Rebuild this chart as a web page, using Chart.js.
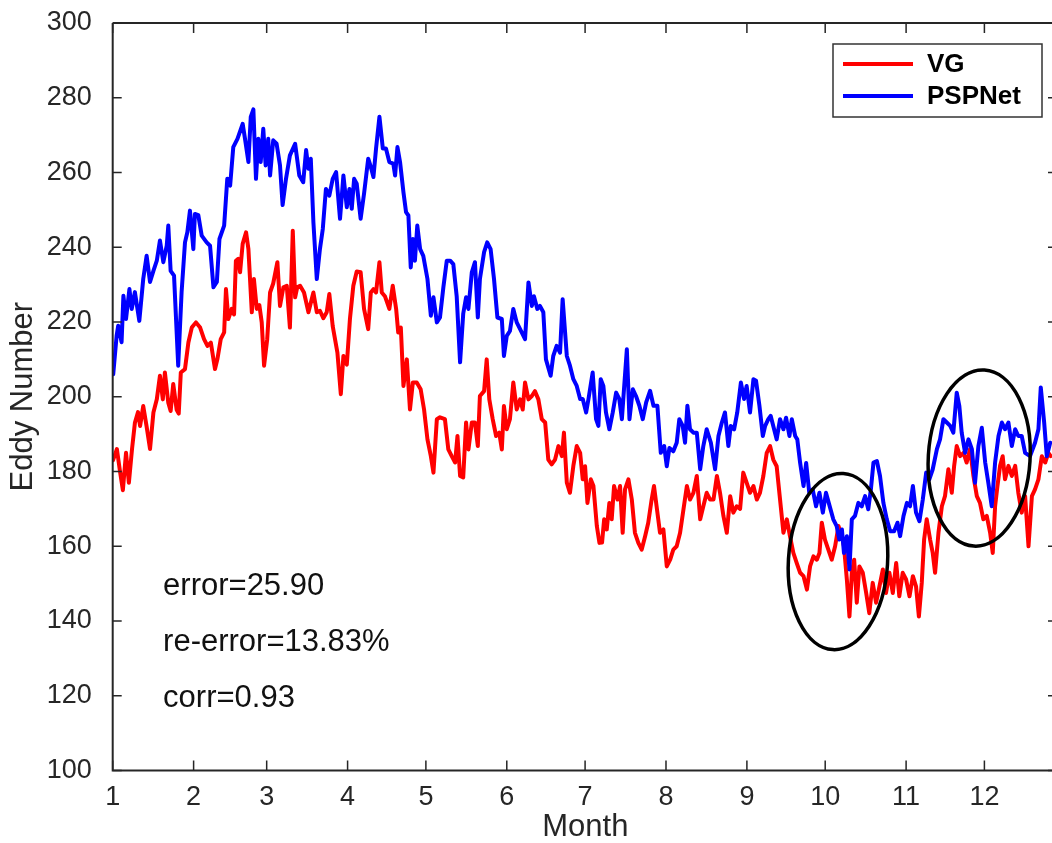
<!DOCTYPE html>
<html>
<head>
<meta charset="utf-8">
<script src="https://cdn.jsdelivr.net/npm/chart.js@4.4.1/dist/chart.umd.min.js"></script>
<style>
  html, body { margin: 0; padding: 0; background: #fff; overflow: hidden; width: 1052px; height: 843px; }
  #wrap { width: 1062px; height: 843px; position: relative; }
</style>
</head>
<body>
<div id="wrap"><canvas id="chart"></canvas></div>
<script>
// eje x en días del año; las marcas son el primer día de cada mes
const monthStarts = [0, 31, 59, 90, 120, 151, 181, 212, 243, 273, 304, 334];
const monthLabels = ['1', '2', '3', '4', '5', '6', '7', '8', '9', '10', '11', '12'];

const seriesNames = ['VG', 'PSPNet'];

const vgDays = [0.1, 1.6, 2.8, 3.9, 5.1, 6.2, 7.4, 8.5, 9.7, 10.5, 11.7, 13.0, 14.3, 15.6, 16.9, 18.1, 19.2, 20.0, 21.3, 22.2,
  23.2, 24.5, 25.3, 26.1, 27.7, 29.0, 30.3, 31.9, 33.5, 35.0, 36.3, 37.6, 39.2, 40.1, 41.4, 42.7, 43.4, 44.3, 45.6, 46.5,
  47.2, 48.1, 48.8, 49.8, 51.1, 52.0, 53.3, 54.1, 55.2, 56.2, 57.1, 58.0, 59.2, 60.3, 61.5, 63.1, 64.1, 65.4, 66.7, 67.9,
  69.0, 69.9, 70.7, 71.8, 73.3, 75.0, 76.9, 78.2, 79.4, 80.7, 82.0, 83.0, 84.3, 86.1, 87.4, 88.4, 89.7, 90.9, 92.2, 93.5,
  95.0, 96.3, 97.9, 98.9, 99.9, 100.9, 102.2, 103.1, 104.3, 106.0, 107.3, 108.6, 109.4, 110.4, 111.4, 112.7, 113.9, 115.0, 116.5, 118.0,
  119.3, 120.6, 121.9, 122.9, 124.2, 125.4, 127.3, 128.6, 129.9, 131.2, 132.1, 133.1, 134.3, 135.4, 136.3, 137.6, 138.8, 139.9, 140.7, 142.3,
  143.3, 144.3, 145.6, 146.9, 148.1, 149.1, 149.9, 151.0, 152.2, 153.5, 154.8, 156.1, 157.1, 158.0, 159.3, 160.6, 161.8, 163.1, 164.4, 165.7,
  166.9, 168.2, 169.5, 170.8, 172.1, 172.9, 174.0, 175.2, 176.5, 177.8, 179.1, 180.1, 181.0, 181.9, 183.2, 184.2, 185.5, 186.5, 187.5, 188.3,
  189.3, 190.3, 191.2, 192.1, 193.4, 194.4, 195.4, 196.3, 197.6, 198.9, 200.1, 201.4, 202.7, 204.0, 205.2, 206.5, 207.4, 208.7, 209.7, 211.0,
  212.3, 213.6, 214.8, 216.1, 217.4, 218.7, 220.0, 221.2, 222.5, 223.8, 225.1, 226.3, 227.6, 228.9, 230.2, 231.5, 232.7, 234.0, 235.3, 236.6,
  237.8, 239.1, 240.4, 241.6, 242.9, 244.2, 245.5, 246.8, 248.0, 249.3, 250.6, 251.9, 253.1, 254.4, 255.7, 257.0, 258.3, 259.5, 260.8, 262.1,
  263.4, 264.7, 266.0, 267.2, 268.5, 269.8, 270.8, 271.7, 272.9, 274.2, 275.5, 276.8, 278.1, 279.4, 280.2, 281.3, 282.3, 283.2, 284.1, 285.1,
  286.1, 287.4, 288.7, 289.9, 291.2, 292.5, 293.8, 295.1, 296.3, 297.6, 298.9, 300.2, 301.4, 302.7, 304.0, 305.3, 306.6, 307.8, 308.9, 310.0,
  310.9, 311.9, 313.2, 314.2, 315.1, 316.4, 317.7, 318.9, 320.2, 321.5, 322.4, 323.4, 324.7, 326.0, 327.2, 328.5, 329.8, 331.1, 332.3, 333.6,
  334.9, 336.2, 337.2, 338.1, 339.0, 340.0, 341.0, 341.9, 343.2, 344.5, 345.8, 347.0, 348.3, 349.6, 350.9, 352.2, 353.4, 354.7, 356.0, 357.3,
  358.5, 359.4];
const vgVals = [183, 186, 180, 175, 185, 177, 186, 193, 195.9, 192.2, 197.5, 192, 186, 195.8, 199.3, 205.6, 199.3, 206.5, 198.4, 196.2,
  203.4, 196.5, 195.5, 206.5, 207.4, 214.5, 218.5, 219.9, 218.5, 215.4, 213.6, 214.5, 207.4, 210, 215.4, 217.2, 228.8, 220.8, 223.5, 222,
  236.4, 236.9, 233.3, 240.9, 244, 239.5, 222.6, 231.5, 223.5, 224.5, 219.9, 208.3, 215.4, 227.9, 230.3, 236, 224.3, 229.3, 229.7, 218.5,
  244.4, 226.6, 229.3, 229.7, 227.9, 222.6, 227.9, 222.6, 223, 221, 222.6, 227.5, 218.9, 211.8, 200.7, 210.9, 208.6, 220.8, 229.7, 233.5,
  233.3, 223.5, 218.1, 227.9, 228.8, 227.9, 236, 227.9, 226.9, 223.5, 229.7, 223.5, 217.2, 218.5, 202.9, 210, 196.6, 203.8, 203.8, 202,
  196.6, 188.6, 184.1, 179.7, 194, 194.5, 194, 185.9, 184.1, 182.4, 189.5, 178.8, 178.4, 193.1, 185.9, 193.1, 193.1, 186.8, 200.2, 201.5,
  210, 199.3, 194, 189.5, 190.4, 185.9, 197.5, 191.3, 194, 203.8, 196.6, 199.3, 196.6, 203.8, 199.3, 200.2, 201.5, 199.3, 194, 193.1,
  183.2, 181.9, 183.2, 186.8, 184.1, 190.4, 177, 174.3, 181.5, 186.8, 185, 177.9, 181.4, 171.6, 177.9, 176.1, 165.4, 160.9, 161, 167.2,
  164.5, 171.6, 167.2, 176.1, 172.5, 176.1, 163.6, 175.2, 177.9, 172.5, 163.6, 160.9, 159.1, 162.7, 166.3, 172.5, 176.1, 169, 163.6, 164.5,
  154.6, 156.4, 159.1, 160, 163.6, 169.9, 176.1, 172.5, 174.3, 178.8, 167.2, 170.7, 174.3, 172.5, 172.5, 178.8, 174.3, 168.1, 163.6, 173.4,
  169, 170.7, 170, 179.7, 177, 174.3, 176.1, 172.5, 174.3, 178.8, 185, 186.8, 183.2, 181.4, 172.5, 163.6, 167.2, 162.7, 158.2, 155.5,
  152.9, 152, 148.4, 154.6, 157.3, 156.4, 158.2, 166.3, 161.8, 159.1, 156.4, 160, 165.4, 162.7, 160, 151.1, 141.2, 152.9, 156.4, 144.9,
  154.6, 152.9, 147.5, 142.1, 150.2, 144.9, 149.3, 153.8, 147.5, 152.9, 147.5, 155.5, 146.6, 152.9, 151.1, 146.6, 152, 149.3, 141.2, 150.2,
  161.8, 167.2, 161.8, 158.2, 152.9, 163.6, 170.7, 173.4, 180.6, 174.3, 181.5, 186.8, 184.1, 185, 182.4, 186, 178.8, 173.4, 171.6, 167.2,
  168.1, 163.6, 158.2, 170.7, 176.1, 181.5, 184.1, 177.9, 181.5, 178.8, 181.5, 174.3, 169, 173.4, 160, 173.4, 175.2, 177.9, 184.1, 182.4,
  185, 184.1];

const pspDays = [0.2, 1.5, 2.1, 3.4, 4.1, 5.1, 6.4, 7.3, 8.5, 10.2, 11.7, 13.0, 14.3, 15.6, 16.9, 18.1, 19.4, 20.7, 21.3, 22.2,
  23.5, 25.1, 26.4, 27.7, 28.6, 29.6, 30.9, 31.5, 32.8, 34.1, 36.0, 37.3, 38.6, 39.9, 40.9, 42.7, 43.9, 45.0, 46.2, 47.8,
  49.8, 50.7, 52.0, 52.9, 53.9, 54.9, 55.8, 56.7, 57.7, 58.6, 59.6, 60.3, 61.5, 62.8, 64.1, 65.1, 66.4, 67.9, 69.9, 71.5,
  73.0, 74.1, 75.0, 75.9, 76.9, 78.2, 79.4, 80.5, 81.7, 83.0, 84.3, 85.6, 87.1, 88.4, 89.7, 90.7, 91.6, 92.5, 93.5, 95.0,
  96.3, 97.9, 98.9, 99.9, 100.9, 102.2, 103.5, 104.7, 106.0, 107.5, 108.2, 109.1, 110.1, 111.4, 112.4, 113.3, 114.2, 115.0, 115.8, 116.7,
  117.8, 119.0, 120.6, 121.9, 122.9, 124.2, 125.4, 126.7, 128.0, 129.3, 130.5, 131.8, 133.1, 134.3, 135.4, 136.3, 137.6, 138.8, 139.9, 140.7,
  142.3, 143.5, 144.8, 146.1, 147.4, 149.1, 149.9, 151.0, 152.2, 153.5, 154.8, 156.1, 158.0, 159.3, 160.6, 161.4, 162.7, 163.7, 165.0, 166.0,
  167.8, 168.8, 170.1, 171.4, 172.4, 174.0, 175.2, 176.5, 177.8, 179.1, 180.1, 181.4, 182.3, 183.9, 185.2, 186.1, 187.0, 188.0, 189.0, 190.3,
  191.6, 192.9, 194.1, 195.1, 195.9, 197.0, 198.0, 199.3, 200.5, 201.8, 203.1, 204.4, 205.9, 207.2, 208.7, 210.0, 211.3, 212.3, 213.3, 214.8,
  216.1, 217.1, 218.4, 219.3, 220.2, 221.2, 222.5, 223.8, 225.1, 226.3, 227.6, 229.2, 230.8, 232.1, 233.4, 234.6, 235.9, 236.8, 238.1, 239.3,
  240.7, 241.9, 242.9, 244.2, 245.5, 246.5, 247.8, 249.1, 250.0, 251.2, 252.1, 253.1, 254.4, 255.7, 257.0, 258.0, 259.3, 260.2, 261.5, 262.3,
  263.4, 264.7, 265.7, 266.9, 268.2, 269.5, 270.8, 272.1, 273.3, 274.6, 276.1, 277.4, 278.4, 279.4, 280.2, 281.3, 282.3, 283.2, 284.4, 285.7,
  287.0, 288.3, 289.5, 290.5, 291.5, 292.8, 294.0, 295.3, 296.6, 297.9, 299.4, 300.7, 301.7, 303.0, 304.3, 305.5, 306.6, 307.8, 309.1, 310.4,
  311.7, 312.9, 314.2, 315.8, 317.0, 318.3, 319.6, 320.9, 322.1, 323.4, 324.4, 325.3, 326.6, 327.9, 329.2, 330.4, 331.7, 333.0, 334.3, 335.5,
  336.8, 338.1, 339.4, 340.7, 341.9, 343.2, 344.5, 345.8, 347.0, 348.3, 349.6, 351.5, 353.4, 354.7, 355.6, 356.9, 357.9, 359.2];
const pspVals = [206, 216.3, 219, 214.6, 227, 220.8, 228.8, 223.5, 228, 220.3, 231.5, 237.7, 230.7, 233.7, 236.4, 241.8, 236, 240.4, 245.8, 233.7,
  232.4, 208.3, 228, 241.3, 244, 249.8, 239.5, 248.9, 248.6, 243.1, 241.3, 240.4, 229.3, 230.7, 242.2, 245.8, 258.3, 256.5, 266.8, 269,
  273, 269, 262.8, 274.9, 276.9, 258.3, 269, 262.8, 271.7, 261.9, 269, 259.2, 268.6, 267.7, 261.9, 251.3, 258.3, 264.6, 267.7, 259.2,
  257.4, 266, 261, 263.7, 246.7, 231.5, 239.5, 244.9, 255.6, 253.8, 258.3, 260.1, 247.6, 259.2, 250.7, 255.6, 250.3, 258.3, 257, 247.6,
  254.3, 263.7, 261.5, 258.8, 266.4, 274.9, 266.4, 266.4, 262.8, 262.4, 259.2, 266.8, 262.8, 254.7, 249.4, 248.5, 234.6, 242.2, 236.4, 245.8,
  239.5, 237.7, 231.5, 221.7, 226.6, 219.9, 221.2, 229.3, 236.4, 236.4, 235.5, 226.9, 209.2, 222.2, 226.6, 223.5, 233.3, 236, 221.2, 231.5,
  238.7, 241.3, 239.5, 231.5, 221.2, 220.8, 210.9, 216.3, 217.6, 223.5, 219.9, 218.1, 215.4, 230.6, 224.3, 226.9, 223.5, 224.3, 222.6, 210,
  205.6, 210.9, 213.6, 211.8, 226.1, 210.9, 208.3, 204.7, 202.9, 199.4, 199.4, 195.8, 199.4, 206.5, 194, 192.2, 204.7, 202.9, 195.8, 191.3,
  195.8, 201.1, 199.4, 194, 202, 212.7, 194, 202, 200.2, 197.6, 194, 198.5, 201.6, 197.6, 197.6, 185, 186.8, 181.4, 186.3, 185.4,
  187.7, 194, 192.2, 187.7, 197.6, 191.3, 190.4, 190.4, 180.6, 186.8, 191.3, 187.7, 180.6, 189.5, 193.1, 195.8, 186.8, 192.2, 191.3, 195.8,
  203.8, 199.4, 202.9, 195.8, 204.7, 204.3, 197.6, 189.5, 192.2, 194, 194.9, 192.2, 188.6, 194, 191.3, 194.4, 189.5, 194, 189.5, 188.6,
  182.3, 176.1, 182.3, 174.3, 175.2, 170.7, 174.3, 169, 174.3, 171, 167.2, 165.4, 161.8, 164.5, 158.2, 162.7, 153.8, 167.2, 168.1, 171.6,
  170.7, 173.4, 169.9, 175.2, 182.4, 182.8, 178.8, 171.6, 167.2, 164, 164, 166.3, 162.7, 168.1, 171.6, 170.7, 176.1, 169, 166.7, 172.5,
  179.7, 177.9, 180.6, 186, 188.6, 194, 193.1, 192.2, 190.4, 201.1, 197.5, 190.4, 185, 188.6, 186, 177, 186.8, 191.7, 182.4, 177,
  170.7, 182.4, 189.5, 193.1, 191.3, 193.1, 186.8, 191.3, 189.5, 189.5, 185, 184.1, 187.7, 191.3, 202.5, 193.1, 184.1, 187.7];

const statLines = ['error=25.90', 're-error=13.83%', 'corr=0.93'];
const statLevels = [150, 135, 120];   // altura (valor y) del centro de cada línea de texto
const statDay = 19.3;

// elipses marcadas a mano: centro (día, valor) y semiejes en unidades de datos
const circleCenters = [[277.9, 155.9], [332.0, 183.6]];
const circleRadii = [[19.0, 23.6], [19.5, 23.6]];

const FONT = '"Liberation Sans", Arial, Helvetica, sans-serif';
const AXIS = '#262626';

const toXY = (xs, ys) => xs.map((x, i) => ({ x, y: ys[i] }));

const matlabBox = {
  id: 'matlabBox',
  afterDatasetsDraw(chart) {
    const { ctx, scales: { x, y } } = chart;
    ctx.save();
    // elipses
    ctx.strokeStyle = '#000';
    ctx.lineWidth = 3.5;
    circleCenters.forEach(([cx, cy], i) => {
      const px = x.getPixelForValue(cx), py = y.getPixelForValue(cy);
      const rx = x.getPixelForValue(cx + circleRadii[i][0]) - px;
      const ry = py - y.getPixelForValue(cy + circleRadii[i][1]);
      ctx.beginPath();
      ctx.ellipse(px, py, rx, ry, 0.06, 0, Math.PI * 2);
      ctx.stroke();
    });
    // textos de estadísticos
    ctx.fillStyle = '#111';
    ctx.font = '31px ' + FONT;
    ctx.textAlign = 'left';
    ctx.textBaseline = 'alphabetic';
    statLines.forEach((t, i) => {
      ctx.fillText(t, x.getPixelForValue(statDay), y.getPixelForValue(statLevels[i]) + 11);
    });
    ctx.restore();
  },
  afterDraw(chart) {
    const { ctx, chartArea: a, scales: { x, y } } = chart;
    ctx.save();
    ctx.strokeStyle = AXIS;
    ctx.lineWidth = 2;
    ctx.beginPath();
    ctx.moveTo(a.left, a.top); ctx.lineTo(a.left, a.bottom); ctx.lineTo(a.right, a.bottom);
    ctx.moveTo(a.left, a.top); ctx.lineTo(a.right, a.top); ctx.lineTo(a.right, a.bottom);
    ctx.stroke();
    // marcas hacia dentro, como en MATLAB
    ctx.lineWidth = 1.5;
    ctx.beginPath();
    monthStarts.forEach(v => {
      const px = x.getPixelForValue(v);
      ctx.moveTo(px, a.bottom); ctx.lineTo(px, a.bottom - 10);
      ctx.moveTo(px, a.top); ctx.lineTo(px, a.top + 10);
    });
    y.ticks.forEach(t => {
      const py = y.getPixelForValue(t.value);
      ctx.moveTo(a.left, py); ctx.lineTo(a.left + 9, py);
      ctx.moveTo(a.right, py); ctx.lineTo(a.right - 10, py);
    });
    ctx.stroke();

    // leyenda
    const bx = a.right - 225, by = a.top + 21, bw = 209, bh = 73;
    ctx.fillStyle = '#fff';
    ctx.fillRect(bx, by, bw, bh);
    ctx.strokeStyle = '#333';
    ctx.lineWidth = 1.5;
    ctx.strokeRect(bx, by, bw, bh);
    ctx.font = 'bold 26px ' + FONT;
    ctx.textBaseline = 'middle';
    ctx.textAlign = 'left';
    chart.data.datasets.forEach((ds, i) => {
      const ly = by + 20 + i * 32;
      ctx.strokeStyle = ds.borderColor;
      ctx.lineWidth = 4;
      ctx.beginPath();
      ctx.moveTo(bx + 10, ly); ctx.lineTo(bx + 80, ly);
      ctx.stroke();
      ctx.fillStyle = '#000';
      ctx.fillText(ds.label, bx + 94, ly + 1);
    });
    ctx.restore();
  }
};

new Chart(document.getElementById('chart'), {
  type: 'line',
  data: {
    datasets: [
      { label: seriesNames[0], data: toXY(vgDays, vgVals), borderColor: '#ff0000', order: 1 },
      { label: seriesNames[1], data: toXY(pspDays, pspVals), borderColor: '#0000ff', order: 0 }
    ]
  },
  options: {
    responsive: true,
    maintainAspectRatio: false,
    animation: false,
    devicePixelRatio: 1,
    parsing: false,
    layout: { padding: { top: 23, right: 4, left: 0, bottom: 0 } },
    elements: {
      line: { borderWidth: 4, tension: 0, borderJoinStyle: 'round', borderCapStyle: 'round', fill: false },
      point: { radius: 0, hoverRadius: 0 }
    },
    plugins: { legend: { display: false }, tooltip: { enabled: false } },
    scales: {
      x: {
        type: 'linear', min: 0, max: 362.2,
        grid: { display: false, drawTicks: false }, border: { display: false },
        afterBuildTicks: s => { s.ticks = monthStarts.map(v => ({ value: v })); },
        afterFit: s => { s.height = 72.5; s.paddingLeft = 0; s.paddingRight = 0; },
        ticks: {
          autoSkip: false, maxRotation: 0, padding: 11, color: AXIS,
          font: { family: FONT, size: 27 },
          callback: v => monthLabels[monthStarts.indexOf(v)]
        },
        title: { display: true, text: 'Month', color: AXIS, font: { family: FONT, size: 31, lineHeight: 1 }, padding: { top: 0, bottom: 0 } }
      },
      y: {
        min: 100, max: 300,
        grid: { display: false, drawTicks: false }, border: { display: false },
        afterFit: s => { s.width = 112.7; s.paddingTop = 0; s.paddingBottom = 0; },
        ticks: { stepSize: 20, padding: 21, color: AXIS, font: { family: FONT, size: 27 } },
        title: { display: true, text: 'Eddy Number', color: AXIS, font: { family: FONT, size: 31, lineHeight: 1.2 }, padding: { top: 5, bottom: 0 } }
      }
    }
  },
  plugins: [matlabBox]
});
</script>
</body>
</html>
